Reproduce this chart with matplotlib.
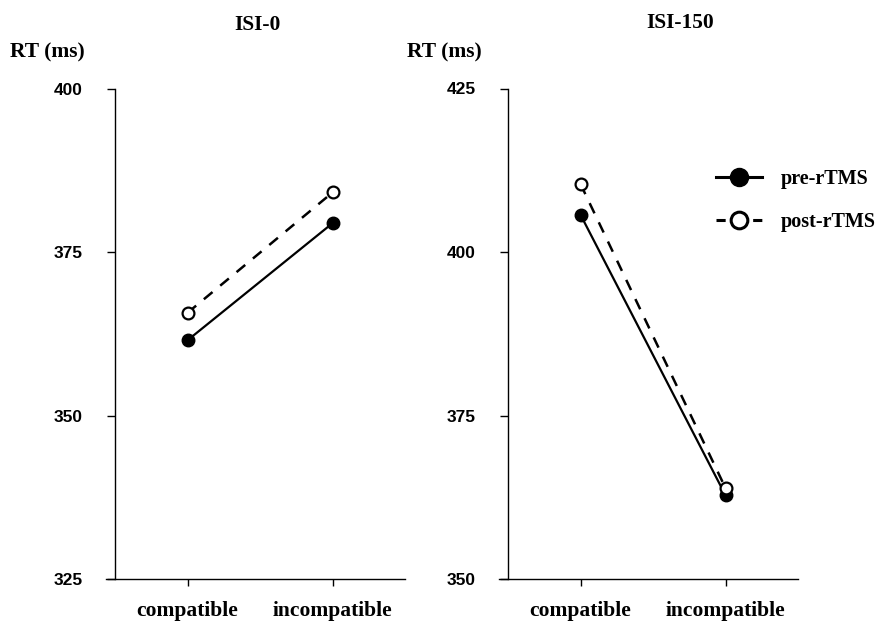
import matplotlib
matplotlib.use("Agg")
import matplotlib.pyplot as plt
from matplotlib.lines import Line2D

conditions = ["compatible", "incompatible"]
titles = ["ISI-0", "ISI-150"]
pre_isi0 = [361.5, 379.4]
post_isi0 = [365.7, 384.1]
pre_isi150 = [405.7, 362.8]
post_isi150 = [410.4, 363.9]
yticks_isi0 = [325, 350, 375, 400]
yticks_isi150 = [350, 375, 400, 425]
series_labels = ["pre-rTMS", "post-rTMS"]

serif = ["Liberation Serif", "DejaVu Serif"]
sans = ["Liberation Sans", "DejaVu Sans"]

fig = plt.figure(figsize=(8.93, 6.22), dpi=100)
W, H = 893, 622

def add_ax(x0, x1, y_top, y_bot):
    return fig.add_axes([x0 / W, 1 - y_bot / H, (x1 - x0) / W, (y_bot - y_top) / H])

ax1 = add_ax(115, 405, 88.5, 579)
ax2 = add_ax(508, 798, 88.5, 579)

x = [0, 1]
for ax, pre, post, yt in [(ax1, pre_isi0, post_isi0, yticks_isi0),
                          (ax2, pre_isi150, post_isi150, yticks_isi150)]:
    ax.plot(x, pre, color="black", lw=1.6, marker="o", ms=9,
            markerfacecolor="black", markeredgecolor="black", zorder=3)
    ax.plot(x, post, color="black", lw=1.8, ls=(0, (4.5, 4)), marker="o", ms=8.5,
            markerfacecolor="white", markeredgecolor="black", markeredgewidth=1.6, zorder=4)
    ax.set_xlim(-0.5, 1.5)
    ax.set_ylim(yt[0], yt[-1])
    ax.set_yticks(yt)
    ax.set_yticklabels([str(v) for v in yt], fontfamily=sans, fontsize=12.5, fontweight="bold")
    ax.set_xticks(x)
    ax.set_xticklabels(conditions, fontfamily=serif, fontsize=15.5, fontweight="bold")
    ax.spines["top"].set_visible(False)
    ax.spines["right"].set_visible(False)
    ax.spines["left"].set_linewidth(1.0)
    ax.spines["bottom"].set_linewidth(1.0)
    ax.spines["bottom"].set_bounds(-0.56, 1.5)
    ax.tick_params(axis="y", direction="out", length=6, width=1, pad=17)
    ax.tick_params(axis="x", direction="out", length=5, width=1, pad=11)

fig.text(257 / W, 1 - 25 / H, titles[0], fontfamily=serif, fontsize=15.5, fontweight="bold",
         ha="center", va="center")
fig.text(680 / W, 1 - 23 / H, titles[1], fontfamily=serif, fontsize=15.5, fontweight="bold",
         ha="center", va="center")
fig.text(10 / W, 1 - 52 / H, "RT (ms)", fontfamily=serif, fontsize=15.5, fontweight="bold",
         ha="left", va="center")
fig.text(407 / W, 1 - 52 / H, "RT (ms)", fontfamily=serif, fontsize=15.5, fontweight="bold",
         ha="left", va="center")

handles = [
    Line2D([], [], color="black", lw=2.2, marker="o", ms=13, markerfacecolor="black"),
    Line2D([], [], color="black", lw=2.2, ls=(0, (3, 3)), marker="o", ms=12,
           markerfacecolor="white", markeredgewidth=2.2),
]
fig.legend(handles, series_labels, loc="upper left",
           bbox_to_anchor=(698 / W, 1 - 151 / H), frameon=False,
           prop={"family": serif, "size": 14.5, "weight": "bold"},
           handlelength=2.3, handletextpad=0.9, labelspacing=1.15)

fig.savefig("out.png", dpi=100)
